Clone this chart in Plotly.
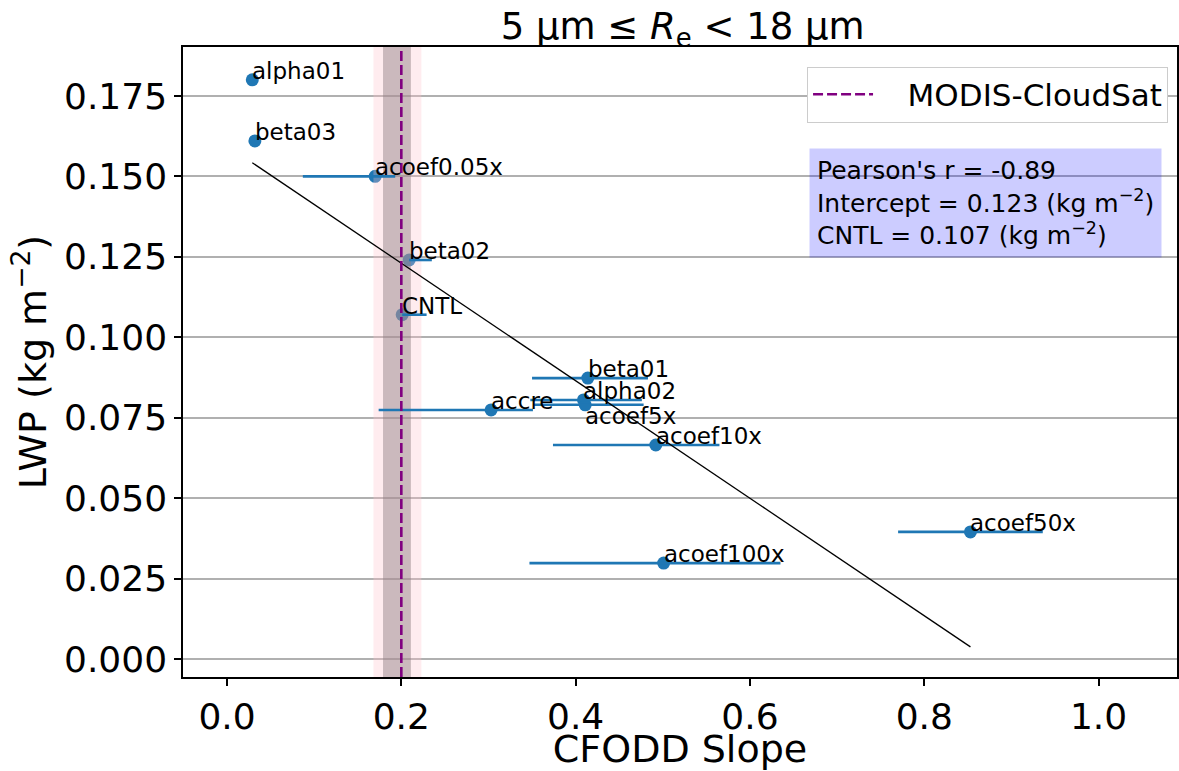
import numpy as np
import plotly.graph_objects as go

# Experiment names and values
names = ["alpha01", "beta03", "acoef0.05x", "beta02", "CNTL", "beta01",
         "alpha02", "acoef5x", "accre", "acoef10x", "acoef50x", "acoef100x"]
cfodd_slope = [0.029, 0.032, 0.170, 0.209, 0.201, 0.414,
               0.409, 0.411, 0.303, 0.492, 0.853, 0.501]
lwp = [0.180, 0.161, 0.150, 0.124, 0.107, 0.0873,
       0.0805, 0.079, 0.0774, 0.0665, 0.0395, 0.0298]
slope_low = [0.029, 0.032, 0.087, 0.209, 0.201, 0.350,
             0.348, 0.352, 0.174, 0.374, 0.770, 0.347]
slope_high = [0.029, 0.032, 0.193, 0.235, 0.229, 0.483,
              0.476, 0.478, 0.351, 0.565, 0.936, 0.635]

# Observational reference (MODIS-CloudSat) and its spread
obs_slope = 0.2
obs_inner = [0.179, 0.211]
obs_outer = [0.168, 0.223]

# Regression statistics
pearson_r = -0.89
fit_slope = -0.1826
intercept_at_obs = 0.123
cntl_lwp = 0.107

x_range = [-0.0505, 1.090]
y_range = [-0.0056, 0.1902]
y_ticks = [0.0, 0.025, 0.05, 0.075, 0.1, 0.125, 0.15, 0.175]
x_ticks = [0.0, 0.2, 0.4, 0.6, 0.8, 1.0]

FONT = "DejaVu Sans"
BLUE = "#1f77b4"

fig = go.Figure()

# Points
fig.add_trace(go.Scatter(
    x=cfodd_slope, y=lwp, mode="markers",
    marker=dict(color=BLUE, size=13, line=dict(width=0)),
    showlegend=False, hoverinfo="skip"))


def band(lo, hi, color):
    fig.add_trace(go.Scatter(
        x=[lo, hi, hi, lo, lo],
        y=[y_range[0], y_range[0], y_range[1], y_range[1], y_range[0]],
        mode="lines", fill="toself", fillcolor=color,
        line=dict(width=0), showlegend=False, hoverinfo="skip"))


band(obs_outer[0], obs_outer[1], "rgba(255,192,203,0.3)")
band(obs_inner[0], obs_inner[1], "rgba(140,125,128,0.45)")

# Horizontal spread bars
ex, ey = [], []
for lo, hi, yv in zip(slope_low, slope_high, lwp):
    ex += [lo, hi, None]
    ey += [yv, yv, None]
fig.add_trace(go.Scatter(x=ex, y=ey, mode="lines",
                         line=dict(color=BLUE, width=2.6),
                         showlegend=False, hoverinfo="skip"))

# Regression line across the experiment range
fx = np.array([min(cfodd_slope), max(cfodd_slope)])
fy = intercept_at_obs + fit_slope * (fx - obs_slope)
fig.add_trace(go.Scatter(x=fx, y=fy, mode="lines",
                         line=dict(color="black", width=1.3),
                         showlegend=False, hoverinfo="skip"))

# Observed slope
fig.add_trace(go.Scatter(x=[obs_slope, obs_slope], y=y_range, mode="lines",
                         line=dict(color="purple", width=2.6, dash="10px,4px"),
                         name="\u00a0\u00a0\u00a0MODIS-CloudSat",
                         hoverinfo="skip"))

# Experiment labels
for n, xv, yv in zip(names, cfodd_slope, lwp):
    below = n == "acoef5x"
    fig.add_annotation(x=xv, y=yv, text=n, showarrow=False,
                       xanchor="left", yanchor="top" if below else "bottom",
                       xshift=-2, yshift=4 if below else -6,
                       font=dict(family=FONT, size=23, color="black"))

stats = (f"Pearson's r = {pearson_r:.2f}<br>"
         f"Intercept = {intercept_at_obs:.3f} (kg m<sup>−2</sup>)<br>"
         f"CNTL = {cntl_lwp:.3f} (kg m<sup>−2</sup>)")
fig.add_annotation(xref="paper", yref="paper", x=0.630, y=0.840,
                   xanchor="left", yanchor="top", align="left",
                   text=stats, showarrow=False,
                   bgcolor="rgba(0,0,255,0.2)", borderpad=7,
                   font=dict(family=FONT, size=25, color="black"))

fig.update_layout(
    width=1179, height=771,
    margin=dict(l=183, r=2, t=47, b=94),
    paper_bgcolor="white", plot_bgcolor="white",
    font=dict(family=FONT, color="black"),
    title=dict(text="5 μm\u00a0≤\u00a0<i>R</i><sub>e</sub> &lt; 18 μm",
               x=0.579, xanchor="center", y=0.983, yanchor="top",
               font=dict(family=FONT, size=37)),
    legend=dict(x=0.991, y=0.969, xanchor="right", yanchor="top",
                bgcolor="white", bordercolor="#cccccc", borderwidth=1,
                itemwidth=60,
                font=dict(family=FONT, size=31)),
    showlegend=True,
)
fig.update_xaxes(range=x_range, tickvals=x_ticks,
                 ticktext=[f"{v:.1f}" for v in x_ticks],
                 showgrid=False, zeroline=False, automargin=False,
                 showline=True, linecolor="black", linewidth=1.5, mirror=True,
                 ticks="outside", ticklen=7, tickwidth=1.5, tickcolor="black",
                 tickfont=dict(family=FONT, size=36),
                 title=dict(text="CFODD Slope", font=dict(family=FONT, size=38),
                            standoff=6))
fig.update_yaxes(range=y_range, tickvals=y_ticks,
                 ticktext=[f"{v:.3f}" for v in y_ticks],
                 showgrid=True, gridcolor="#b0b0b0", gridwidth=1.5,
                 zeroline=False, automargin=False,
                 showline=True, linecolor="black", linewidth=1.5, mirror=True,
                 ticks="outside", ticklen=7, tickwidth=1.5, tickcolor="black",
                 tickfont=dict(family=FONT, size=36),
                 title=dict(text="LWP (kg m<sup>−2</sup>)",
                            font=dict(family=FONT, size=38), standoff=6))

fig.write_html("out.html")
